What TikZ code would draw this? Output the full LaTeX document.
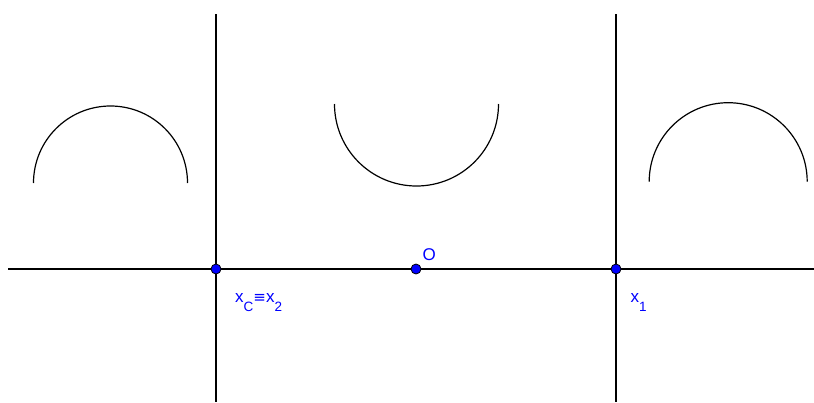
\documentclass[tikz,border=0pt]{standalone}
\usepackage{fontspec}
\setmainfont{Liberation Sans}
\newfontfamily\symfont{DejaVu Sans}
\definecolor{ggblue}{RGB}{0,0,255}
\newcommand{\gsub}[1]{\raisebox{-9.5pt}{\fontsize{13.5}{13.5}\selectfont #1}}
\begin{document}
\begin{tikzpicture}[x=1pt,y=-1pt,
  ln/.style={line width=1.2pt,black},
  pt/.style={circle,fill=ggblue,draw=black,line width=0.8pt,inner sep=0pt,minimum size=10pt},
  lbl/.style={text=ggblue,font=\fontsize{17}{17}\selectfont,inner sep=0pt}]
\useasboundingbox (0,0) rectangle (814,402);
% axes
\coordinate (hl) at (8,269);
\coordinate (hr) at (814,269);
\coordinate (v1t) at (216,14);
\coordinate (v1b) at (216,402);
\coordinate (v2t) at (616,14);
\coordinate (v2b) at (616,402);
\draw[ln] (hl) -- (hr);
\draw[ln] (v1t) -- (v1b);
\draw[ln] (v2t) -- (v2b);
% arcs
\draw[ln] (33.5,183) arc[start angle=180,end angle=360,radius=77];
\draw[ln] (334.5,104) arc[start angle=180,end angle=0,radius=82];
\draw[ln] (649.2,181.7) arc[start angle=180,end angle=360,radius=79];
% points
\node[pt] (xc) at (216,269) {};
\node[pt] (o) at (416,269) {};
\node[pt] (x1) at (616,269) {};
% labels
\node[lbl,anchor=base west] (lxc) at (235,302) {x\gsub{C}{\symfont\fontsize{15}{15}\selectfont ≡}x\gsub{2}};
\node[lbl,anchor=base west] (lo) at (422.5,260.3) {O};
\node[lbl,anchor=base west] (lx1) at (630.5,302) {x\gsub{1}};
\end{tikzpicture}
\end{document}
